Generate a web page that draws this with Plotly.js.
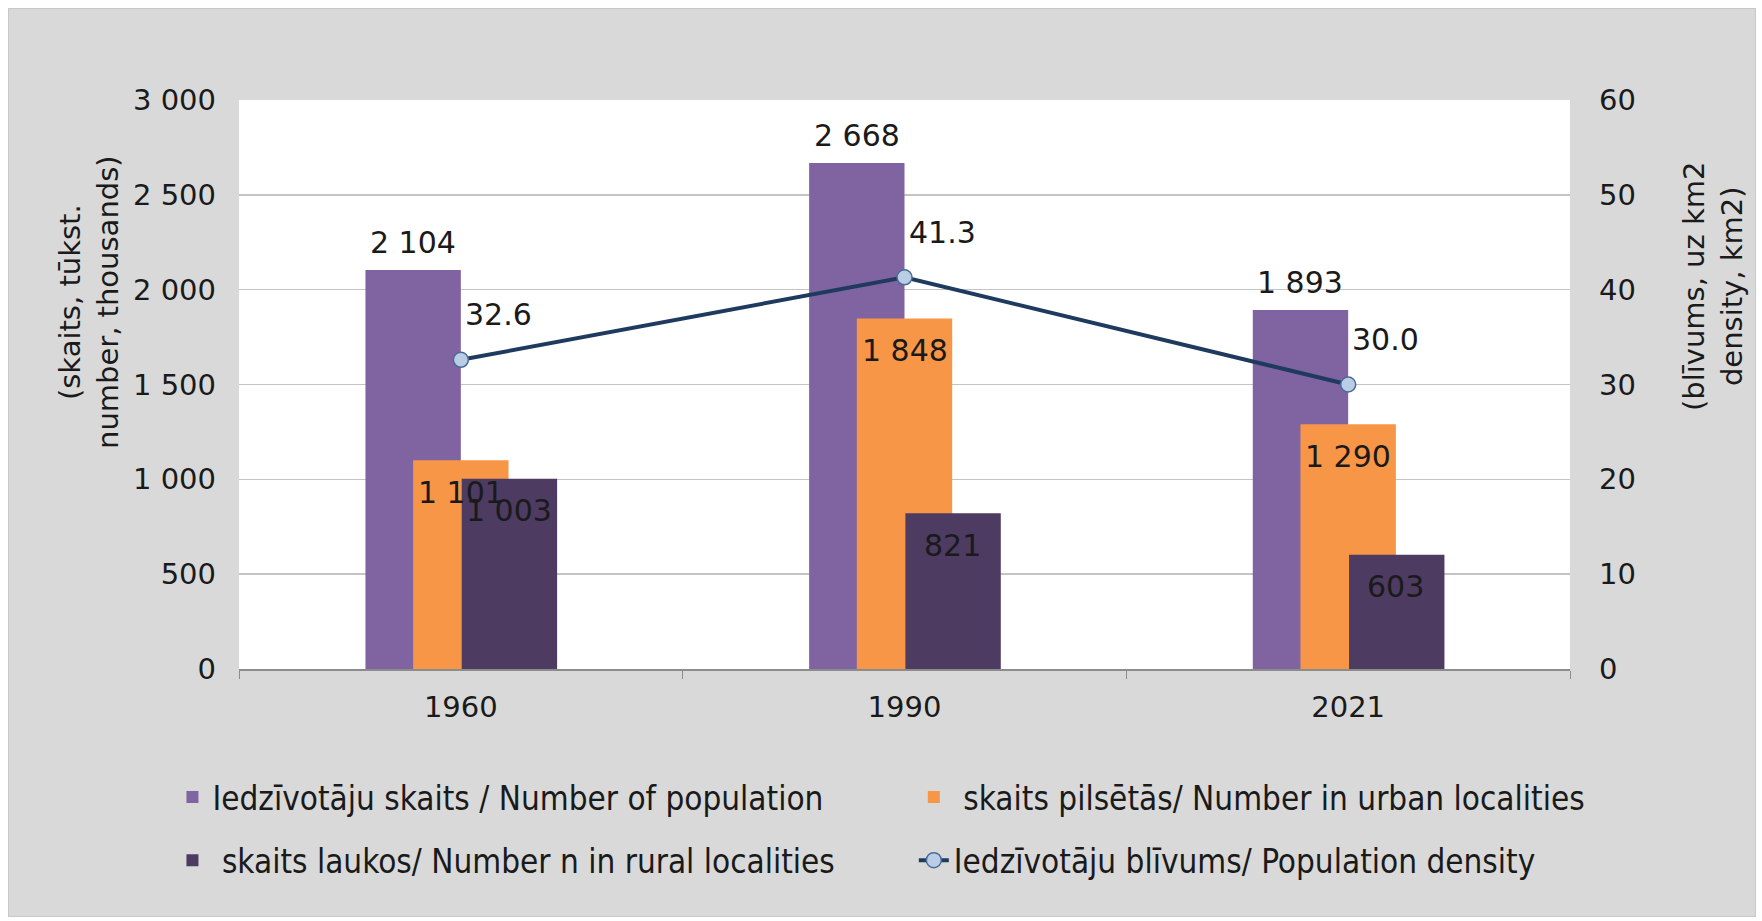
<!DOCTYPE html>
<html>
<head>
<meta charset="utf-8">
<script src="https://cdn.plot.ly/plotly-3.0.1.min.js"></script>
<style>
  html, body { margin: 0; padding: 0; background: #ffffff; }
  #chart { position: absolute; left: 8px; top: 8px; width: 1746px; height: 907px; border: 1px solid #c8c8c8; }
</style>
</head>
<body>
<div id="chart"></div>
<script>
// ---- data ----
var years = ['1960', '1990', '2021'];
var totalPop = [2104, 2668, 1893];
var urbanPop = [1101, 1848, 1290];
var ruralPop = [1003, 821, 603];
var density = [32.6, 41.3, 30.0];

var seriesNames = [
  'Iedzīvotāju skaits / Number of population',
  '\u00a0skaits pilsētās/ Number in urban localities',
  '\u00a0skaits laukos/ Number n in rural localities',
  'Iedzīvotāju blīvums/ Population density'
];

// ---- styling ----
var cPurple = '#8064a2', cOrange = '#f79646', cDark = '#4d3b62', cLine = '#1f3a5f';
var barW = 0.215;
var txtColor = '#1a1a1a';
var baseFont = 'DejaVu Sans, Verdana, sans-serif';
var legendFont = 'DejaVu Sans Condensed, Liberation Sans Narrow, DejaVu Sans, sans-serif';

function fmt(n) { return String(n).replace(/\B(?=(\d{3})+(?!\d))/g, ' '); }

var traces = [
  { type: 'bar', name: seriesNames[0], x: years, y: totalPop, width: barW, offset: -barW,
    marker: { color: cPurple }, legend: 'legend', hoverinfo: 'y' },
  { type: 'bar', name: seriesNames[1], x: years, y: urbanPop, width: barW, offset: -barW / 2,
    marker: { color: cOrange }, legend: 'legend2', hoverinfo: 'y' },
  { type: 'bar', name: seriesNames[2], x: years, y: ruralPop, width: barW, offset: 0.002,
    marker: { color: cDark }, legend: 'legend3', hoverinfo: 'y' },
  { type: 'scatter', mode: 'lines+markers', name: seriesNames[3], x: years, y: density, yaxis: 'y2',
    line: { color: cLine, width: 4 },
    marker: { symbol: 'circle', size: 15, color: '#b9cde5', line: { color: '#4a6b9a', width: 1.5 } },
    legend: 'legend4', hoverinfo: 'y' }
];

var ann = [];
years.forEach(function (yr, i) {
  ann.push({ x: i - barW / 2, y: totalPop[i], xref: 'x', yref: 'y', text: fmt(totalPop[i]),
    showarrow: false, yshift: 27, yanchor: 'middle', xanchor: 'center' });
  ann.push({ x: i, y: urbanPop[i], xref: 'x', yref: 'y', text: fmt(urbanPop[i]),
    showarrow: false, yshift: -32, yanchor: 'middle', xanchor: 'center' });
  ann.push({ x: i + barW / 2, y: ruralPop[i], xref: 'x', yref: 'y', text: fmt(ruralPop[i]),
    showarrow: false, yshift: -32, yanchor: 'middle', xanchor: 'center' });
  ann.push({ x: i, y: density[i], xref: 'x', yref: 'y2', text: density[i].toFixed(1),
    showarrow: false, yshift: 45, xshift: 2, yanchor: 'middle', xanchor: 'left' });
});
ann.push({ xref: 'paper', yref: 'paper', x: 0, y: 0.645, xshift: -150, textangle: -90,
  text: '(skaits, tūkst.<br>number, thousands)', showarrow: false, xanchor: 'center', yanchor: 'middle',
  font: { size: 29 } });
ann.push({ xref: 'paper', yref: 'paper', x: 1, y: 0.673, xshift: 143, textangle: -90,
  text: '(blīvums, uz km2<br>density, km2)', showarrow: false, xanchor: 'center', yanchor: 'middle',
  font: { size: 29 } });

function legendAt(x, y) {
  return {
    orientation: 'h', x: x, y: y, xanchor: 'left', yanchor: 'middle',
    bgcolor: 'rgba(0,0,0,0)', borderwidth: 0,
    font: { family: legendFont, size: 33, color: txtColor }
  };
}

var layout = {
  width: 1746, height: 907,
  paper_bgcolor: '#d9d9d9', plot_bgcolor: '#ffffff',
  margin: { l: 230, r: 185, t: 91, b: 247 },
  font: { family: baseFont, size: 30, color: txtColor },
  separators: '. ',
  barmode: 'overlay',
  showlegend: true,
  xaxis: {
    type: 'category', range: [-0.5, 2.5], tickson: 'boundaries', ticks: 'outside', ticklen: 8,
    tickcolor: '#8c8c8c', showline: true, linecolor: '#8c8c8c', linewidth: 1.5, showgrid: false,
    ticklabelstandoff: 12, tickfont: { size: 29 }
  },
  yaxis: {
    range: [0, 3000], dtick: 500, tick0: 0, separatethousands: true, showgrid: true,
    gridcolor: '#c4c4c4', gridwidth: 1.5, zeroline: false, showline: false, ticks: '',
    ticklabelstandoff: 22, tickfont: { size: 29 }
  },
  yaxis2: {
    range: [0, 60], dtick: 10, tick0: 0, overlaying: 'y', side: 'right', showgrid: false,
    zeroline: false, showline: false, ticks: '', ticklabelstandoff: 28, tickfont: { size: 29 }
  },
  legend: legendAt(-0.050, -0.225),
  legend2: legendAt(0.507, -0.225),
  legend3: legendAt(-0.050, -0.336),
  legend4: legendAt(0.507, -0.336),
  annotations: ann
};

Plotly.newPlot('chart', traces, layout, { displayModeBar: false, staticPlot: true });
</script>
</body>
</html>
